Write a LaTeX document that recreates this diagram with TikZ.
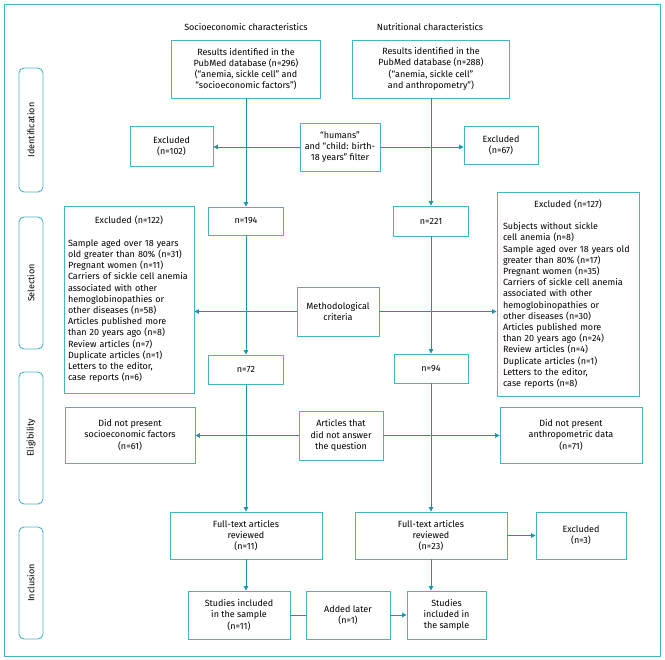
\documentclass[tikz,border=0pt]{standalone}
\usepackage{fontspec}
\setmainfont{Fira Sans}
\usetikzlibrary{arrows.meta}
\definecolor{boxc}{HTML}{45B6C6}
\definecolor{linec}{HTML}{1A93AD}
\begin{document}
\begin{tikzpicture}[x=1pt,y=-1pt,
  font=\fontsize{9}{11.2}\selectfont,
  box/.style={draw=boxc, line width=0.9pt, align=center, inner sep=2pt},
  listbox/.style={draw=boxc, line width=0.9pt, align=left, inner ysep=6pt},
  stage/.style={draw=boxc, line width=0.9pt, rounded corners=5pt, rotate=90, minimum height=24pt, inner sep=0pt},
  conn/.style={draw=linec, line width=0.9pt},
  arr/.style={conn, -{Triangle[length=4.5pt,width=4.5pt]}},
  title/.style={inner sep=0pt}
]
\useasboundingbox (0,0) rectangle (665,660);
\draw[draw=boxc, line width=1pt] (4,5) rectangle (660,656);

% stage labels
\node[stage, minimum width=124pt] (sid) at (31,130) {Identification};
\node[stage, minimum width=132pt] (ssel) at (31,283) {Selection};
\node[stage, minimum width=132pt] (selig) at (31,438) {Eligibility};
\node[stage, minimum width=112pt] (sinc) at (31,583) {Inclusion};

% titles
\node[title] (t1) at (246,27) {Socioeconomic characteristics};
\node[title] (t2) at (430,27) {Nutritional characteristics};

% identification
\node[box, minimum width=149pt, minimum height=58pt] (res1) at (246,69)
  {Results identified in the\\PubMed database (n=296)\\(“anemia, sickle cell” and\\“socioeconomic factors”)};
\node[box, minimum width=157pt, minimum height=58pt] (res2) at (431,69)
  {Results identified in the\\PubMed database (n=288)\\(“anemia, sickle cell”\\and anthropometry”)};
\node[box, minimum width=80pt, minimum height=48pt] (filter) at (340,147)
  {“humans”\\and “child: birth-\\18 years” filter};
\node[box, minimum width=83pt, minimum height=40pt] (exc102) at (171.5,146) {Excluded\\(n=102)};
\node[box, minimum width=74pt, minimum height=38pt] (exc67) at (501,145) {Excluded\\(n=67)};

% selection
\node[box, minimum width=75pt, minimum height=28pt] (n194) at (246,221) {n=194};
\node[box, minimum width=75pt, minimum height=30pt] (n221) at (431,221) {n=221};
\node[listbox, inner xsep=4pt, text width=122pt, minimum width=130pt, minimum height=187pt] (exc122) at (129,299.5)
  {\makebox[122pt][c]{Excluded (n=122)}\\[11.2pt]
   Sample aged over 18 years\\
   old greater than 80\% (n=31)\\
   Pregnant women (n=11)\\
   Carriers of sickle cell anemia\\
   associated with other\\
   hemoglobinopathies or\\
   other diseases (n=58)\\
   Articles published more\\
   than 20 years ago (n=8)\\
   Review articles (n=7)\\
   Duplicate articles (n=1)\\
   Letters to the editor,\\
   case reports (n=6)};
\node[listbox, inner xsep=6pt, text width=130pt, minimum width=142pt, minimum height=204pt] (exc127) at (568,294)
  {\makebox[130pt][c]{Excluded (n=127)}\\[11.2pt]
   Subjects without sickle\\
   cell anemia (n=8)\\
   Sample aged over 18 years old\\
   greater than 80\% (n=17)\\
   Pregnant women (n=35)\\
   Carriers of sickle cell anemia\\
   associated with other\\
   hemoglobinopathies or\\
   other diseases (n=30)\\
   Articles published more\\
   than 20 years ago (n=24)\\
   Review articles (n=4)\\
   Duplicate articles (n=1)\\
   Letters to the editor,\\
   case reports (n=8)};
\node[box, minimum width=82pt, minimum height=49pt] (method) at (338,311.5) {Methodological\\criteria};
\node[box, minimum width=75pt, minimum height=29pt] (n72) at (246,369.5) {n=72};
\node[box, minimum width=74pt, minimum height=29pt] (n94) at (431,368.5) {n=94};

% eligibility
\node[box, minimum width=130pt, minimum height=56pt] (dnps) at (130,435) {Did not present\\socioeconomic factors\\(n=61)};
\node[box, minimum width=84pt, minimum height=49pt] (art) at (341,435.5) {Articles that\\did not answer\\the question};
\node[box, minimum width=142pt, minimum height=56pt] (dnpa) at (571,435) {Did not present\\anthropometric data\\(n=71)};

% inclusion
\node[box, minimum width=152pt, minimum height=47pt] (ftl) at (246,535.5) {Full-text articles\\reviewed\\(n=11)};
\node[box, minimum width=152pt, minimum height=47pt] (ftr) at (431,535.5) {Full-text articles\\reviewed\\(n=23)};
\node[box, minimum width=90pt, minimum height=47pt] (exc3) at (581,535.5) {Excluded\\(n=3)};
\node[box, minimum width=102pt, minimum height=48pt] (studl) at (239,615) {Studies included\\in the sample\\(n=11)};
\node[box, minimum width=84pt, minimum height=48pt] (added) at (348,615) {Added later\\(n=1)};
\node[box, minimum width=79pt, minimum height=48pt] (studr) at (446.5,615) {Studies\\included in\\the sample};

% vertical flows
\draw[arr] (res1.south) -- (n194.north);
\draw[arr] (n194.south) -- (n72.north);
\draw[arr] (n72.south) -- (ftl.north);
\draw[arr] (ftl.south) -- (ftl.south |- studl.north);
\draw[arr] (res2.south) -- (n221.north);
\draw[arr] (n221.south) -- (n94.north);
\draw[arr] (n94.south) -- (ftr.north);
\draw[arr] (ftr.south) -- (ftr.south |- studr.north);

% horizontal flows
\draw[arr] (filter.west) -- (filter.west -| exc102.east);
\draw[arr] (filter.east) -- (filter.east -| exc67.west);
\draw[arr] (method.west) -- (method.west -| exc122.east);
\draw[arr] (method.east) -- (method.east -| exc127.west);
\draw[arr] (art.west) -- (art.west -| dnps.east);
\draw[arr] (art.east) -- (art.east -| dnpa.west);
\draw[arr] (ftr.east) -- (ftr.east -| exc3.west);
\draw[conn] (studl.east) -- (studl.east -| added.west);
\draw[arr] (added.east) -- (added.east -| studr.west);
\end{tikzpicture}
\end{document}
